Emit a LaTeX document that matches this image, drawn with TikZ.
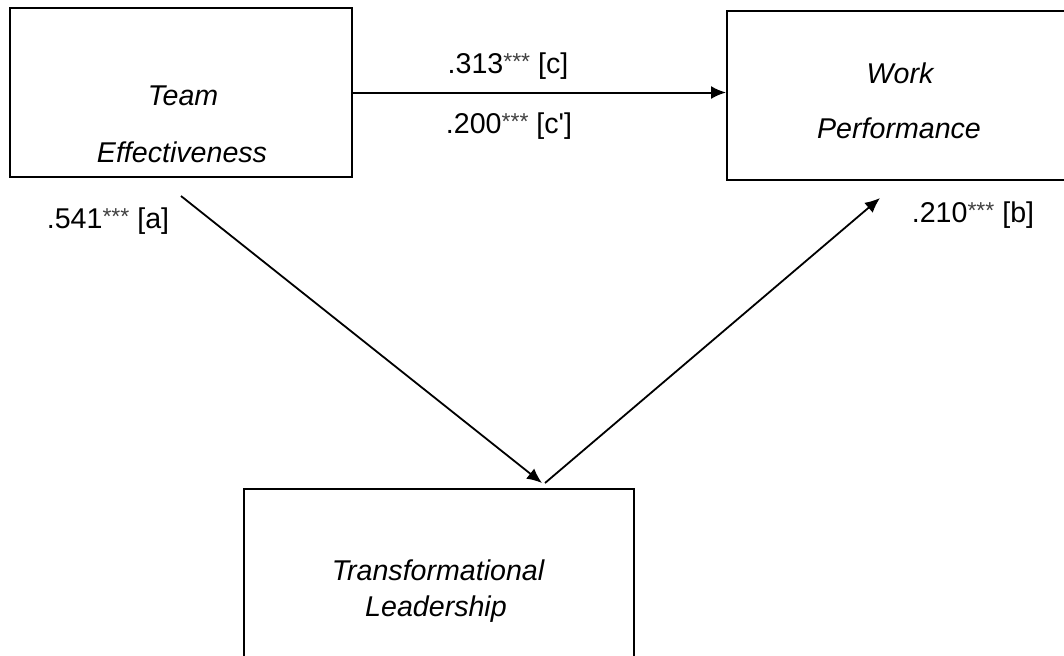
\documentclass[tikz,border=0pt]{standalone}
\usepackage{fontspec}
\setmainfont{Liberation Sans}
\usetikzlibrary{arrows.meta}
\newcommand{\stars}{\raisebox{2pt}{\fontsize{11.5pt}{12pt}\selectfont\color{black!75}***}}
\begin{document}
\begin{tikzpicture}[x=0.5pt,y=-0.5pt,
  box/.style={draw, line width=1pt, inner sep=0pt},
  lbl/.style={font=\fontsize{14.3pt}{17pt}\selectfont\itshape, anchor=base, inner sep=0pt},
  coef/.style={font=\fontsize{14.3pt}{17pt}\selectfont, anchor=base, inner sep=0pt},
  arr/.style={line width=0.9pt, -{Latex[length=7.5pt,width=6.5pt]}}]
\useasboundingbox (0,0) rectangle (1064,655);
\clip (0,0) rectangle (1064,655);
% boxes
\node[box, minimum width=171pt, minimum height=84.5pt] (te) at (181,92.5) {};
\node[box, minimum width=176.5pt, minimum height=84.5pt] (wp) at (903.5,95.5) {};
\node[box, minimum width=195pt, minimum height=95.5pt] (tl) at (439,584.5) {};
% box texts
\node[lbl] (te1) at (183,105) {Team};
\node[lbl] (te2) at (182,162) {Effectiveness};
\node[lbl] (wp1) at (900,83) {Work};
\node[lbl] (wp2) at (899,138) {Performance};
\node[lbl] (tl1) at (438,580) {Transformational};
\node[lbl] (tl2) at (436,616) {Leadership};
% connectors
\draw[arr, line width=1pt] (te.east) -- (te.east -| wp.west);
\coordinate (a1) at (181,196);
\coordinate (a2) at (542,483);
\coordinate (b1) at (545,483);
\coordinate (b2) at (880,198);
\draw[arr] (a1) -- (a2);
\draw[arr] (b1) -- (b2);
% coefficients
\node[coef] (c) at (508,73) {.313\stars{} [c]};
\node[coef] (cp) at (509,133) {.200\stars{} [c\textquotesingle]};
\node[coef] (a) at (108,228) {.541\stars{} [a]};
\node[coef] (b) at (973,222) {.210\stars{} [b]};
\end{tikzpicture}
\end{document}
